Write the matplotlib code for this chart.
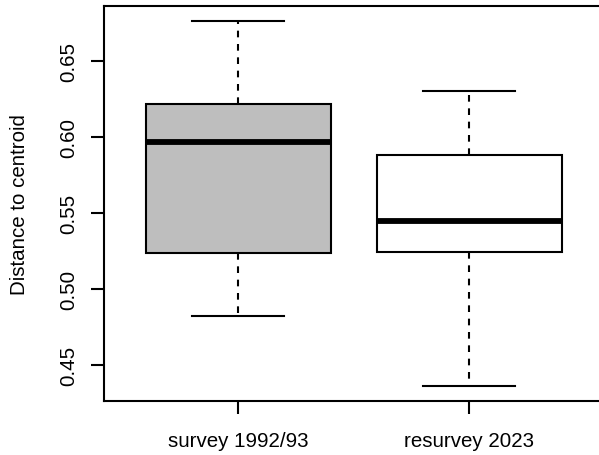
import matplotlib
matplotlib.use("Agg")
import matplotlib.pyplot as plt

categories = ["survey 1992/93", "resurvey 2023"]
whisker_low = [0.482, 0.436]
q1 = [0.5235, 0.5245]
median = [0.597, 0.545]
q3 = [0.6215, 0.5884]
whisker_high = [0.6765, 0.6305]
fills = ["#BEBEBE", "#FFFFFF"]
yticks = [0.45, 0.50, 0.55, 0.60, 0.65]

plt.rcParams['font.family'] = ['Liberation Sans', 'DejaVu Sans']
plt.rcParams['font.size'] = 14.8

fig = plt.figure(figsize=(5.99, 4.56), dpi=100)
ax = fig.add_axes([104/599, 1-402/456, (603.3-104)/599, (402-7)/456])

stats = []
for i, c in enumerate(categories):
    stats.append(dict(label=c, whislo=whisker_low[i], q1=q1[i], med=median[i],
                      q3=q3[i], whishi=whisker_high[i], fliers=[]))

lw = 1.5
bp = ax.bxp(stats, positions=[1, 2], widths=0.8, patch_artist=True,
            showfliers=False,
            boxprops=dict(linewidth=lw, edgecolor='black'),
            medianprops=dict(linewidth=4.2, color='black', solid_capstyle='butt'),
            whiskerprops=dict(linewidth=lw, color='black', linestyle=(0, (3.2, 3.2))),
            capprops=dict(linewidth=lw, color='black'),
            capwidths=0.4)
for patch, f in zip(bp['boxes'], fills):
    patch.set_facecolor(f)

ax.set_xlim(0.42, 2.58)
ax.set_ylim(0.4263, 0.6862)
ax.set_yticks(yticks)
ax.set_yticklabels([f"{v:.2f}" for v in yticks], rotation=90, va='center')
ax.set_xticks([1, 2])
ax.set_xticklabels(categories)
ax.tick_params(axis='both', length=9.5, width=lw, direction='out', color='black')
ax.tick_params(axis='y', pad=9)
ax.tick_params(axis='x', pad=12)
for s in ax.spines.values():
    s.set_linewidth(lw)
ax.set_ylabel("Distance to centroid", labelpad=22)

fig.savefig("out.png", dpi=100)
